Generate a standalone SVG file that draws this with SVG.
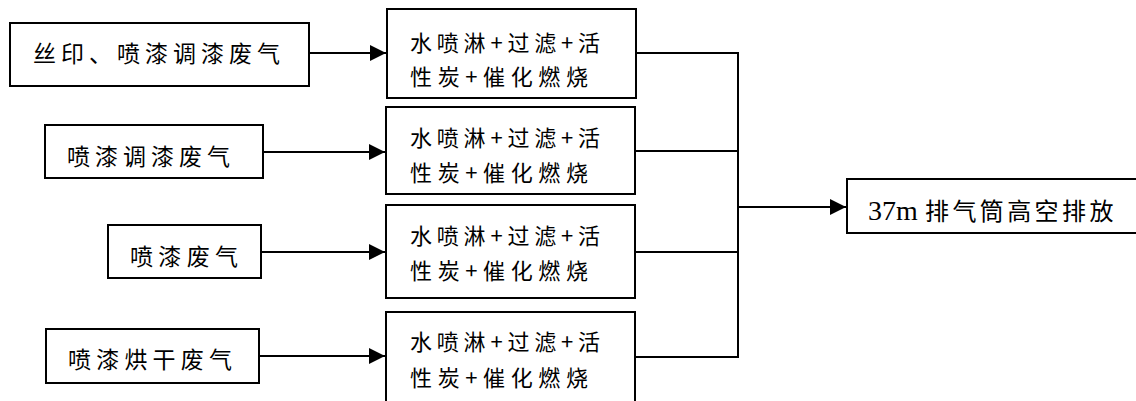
<svg xmlns="http://www.w3.org/2000/svg" width="1136" height="401" viewBox="0 0 1136 401">
<style>
.box{fill:#fff;stroke:#000;stroke-width:2}
.t{font-family:"Noto Sans CJK SC",sans-serif;fill:#000;font-size:23px}
.m{font-family:"Noto Sans CJK SC",sans-serif;fill:#000;font-size:22px}
.c{fill:none;stroke:#000;stroke-width:2}
.lat{font-family:"Liberation Serif",serif;font-size:28px}
</style>
<defs>
<marker id="ah" markerWidth="8" markerHeight="8" refX="8" refY="4" orient="auto" markerUnits="strokeWidth">
<path d="M0,0 L8,4 L0,8 Z" fill="#000"/>
</marker>
</defs>
<rect width="1136" height="401" fill="#fff"/>
<g id="connectors">
<line class="c" x1="309" y1="53" x2="386" y2="53" marker-end="url(#ah)"/>
<line class="c" x1="263" y1="152" x2="385" y2="152" marker-end="url(#ah)"/>
<line class="c" x1="261" y1="252" x2="385" y2="252" marker-end="url(#ah)"/>
<line class="c" x1="255" y1="356" x2="385" y2="356" marker-end="url(#ah)"/>
<polyline class="c" points="636,53 738,53 738,357 634,357"/>
<line class="c" x1="635" y1="151" x2="738" y2="151"/>
<line class="c" x1="635" y1="252" x2="738" y2="252"/>
<line class="c" x1="738" y1="207" x2="846" y2="207" marker-end="url(#ah)"/>
</g>
<g id="src1"><rect class="box" x="10" y="23" width="299" height="63"/><text class="t" x="33" y="62" textLength="247" lengthAdjust="spacing">丝印、喷漆调漆废气</text></g>
<g id="src2"><rect class="box" x="45" y="125" width="218" height="53"/><text class="t" x="67" y="165" textLength="163" lengthAdjust="spacing">喷漆调漆废气</text></g>
<g id="src3"><rect class="box" x="108" y="225" width="153" height="53"/><text class="t" x="130" y="265" textLength="108" lengthAdjust="spacing">喷漆废气</text></g>
<g id="src4"><rect class="box" x="46" y="329" width="213" height="54"/><text class="t" x="68" y="368" textLength="164" lengthAdjust="spacing">喷漆烘干废气</text></g>
<g id="treat1"><rect class="box" x="387" y="9" width="249" height="89"/><text class="m" x="410" y="51" textLength="190" lengthAdjust="spacing">水喷淋+过滤+活</text><text class="m" x="410" y="85" textLength="178" lengthAdjust="spacing">性炭+催化燃烧</text></g>
<g id="treat2"><rect class="box" x="386" y="107" width="249" height="87"/><text class="m" x="410" y="146" textLength="190" lengthAdjust="spacing">水喷淋+过滤+活</text><text class="m" x="410" y="181" textLength="178" lengthAdjust="spacing">性炭+催化燃烧</text></g>
<g id="treat3"><rect class="box" x="386" y="205" width="249" height="93"/><text class="m" x="410" y="244" textLength="190" lengthAdjust="spacing">水喷淋+过滤+活</text><text class="m" x="410" y="279" textLength="178" lengthAdjust="spacing">性炭+催化燃烧</text></g>
<g id="treat4"><rect class="box" x="386" y="312" width="249" height="95"/><text class="m" x="410" y="350" textLength="190" lengthAdjust="spacing">水喷淋+过滤+活</text><text class="m" x="410" y="386" textLength="178" lengthAdjust="spacing">性炭+催化燃烧</text></g>
<g id="stack"><rect class="box" x="847" y="179" width="290" height="54"/><text class="t" y="220"><tspan class="lat" x="868">37m</tspan><tspan x="925" letter-spacing="3.4" font-size="24">排气筒高空排放</tspan></text></g>
</svg>
